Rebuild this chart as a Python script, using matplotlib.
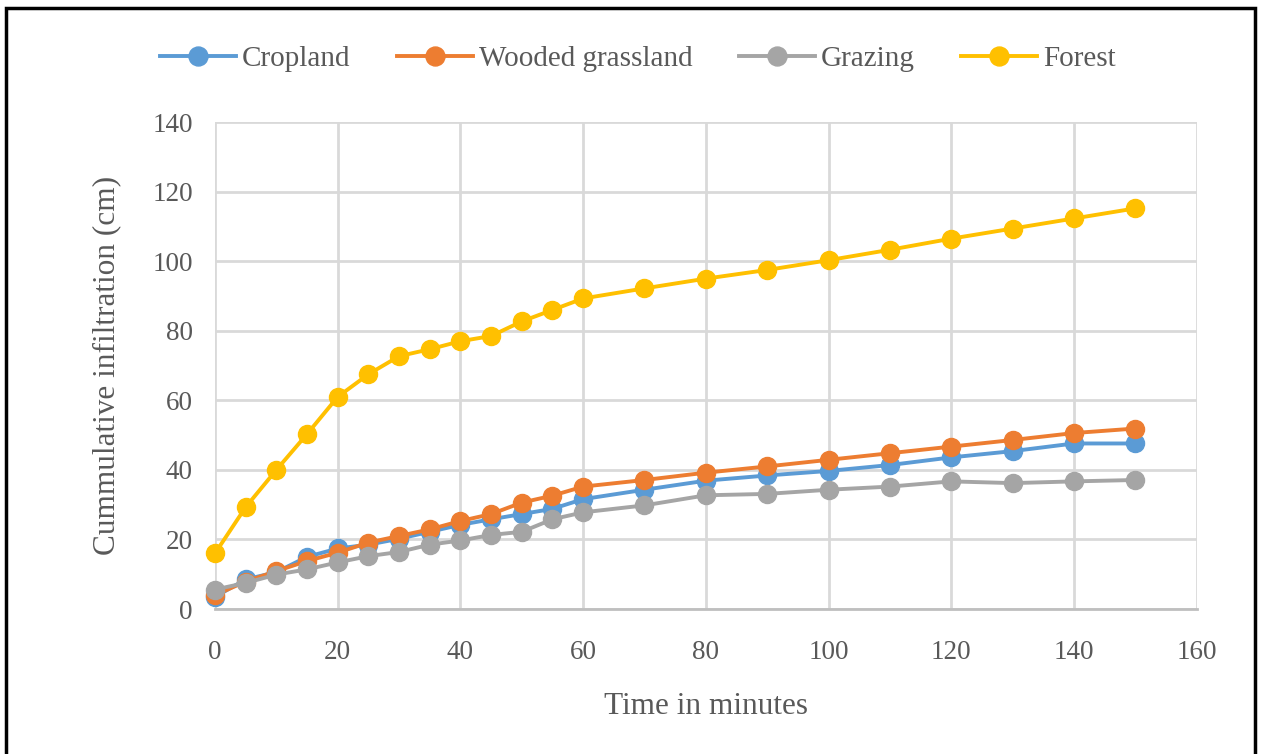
import matplotlib
matplotlib.use("Agg")
import matplotlib.pyplot as plt
from matplotlib.patches import Rectangle

# time in minutes
time = [0, 5, 10, 15, 20, 25, 30, 35, 40, 45, 50, 55, 60, 70, 80, 90, 100, 110, 120, 130, 140, 150]

cropland = [3.5, 8.5, 10.6, 15.0, 17.4, 18.5, 20.2, 22.2, 24.2, 25.8, 27.3, 28.8, 31.6,
            34.3, 36.9, 38.4, 39.7, 41.4, 43.6, 45.4, 47.6, 47.6]
wooded = [4.0, 7.9, 10.9, 13.8, 16.2, 19.1, 21.0, 22.9, 25.3, 27.3, 30.6, 32.6, 35.2,
          37.1, 39.2, 41.0, 42.9, 44.8, 46.7, 48.6, 50.6, 51.9]
grazing = [5.6, 7.5, 9.9, 11.4, 13.4, 15.2, 16.4, 18.5, 19.7, 21.3, 22.2, 25.8, 27.8,
           29.8, 32.7, 33.1, 34.3, 35.2, 36.7, 36.2, 36.7, 37.1]
forest = [16.0, 29.3, 40.0, 50.3, 61.0, 67.5, 72.7, 74.7, 77.0, 78.5, 82.7, 86.0, 89.3,
          92.2, 95.0, 97.5, 100.3, 103.3, 106.5, 109.4, 112.3, 115.2]

series = [
    ("Cropland", cropland, "#5b9bd5"),
    ("Wooded grassland", wooded, "#ed7d31"),
    ("Grazing", grazing, "#a5a5a5"),
    ("Forest", forest, "#ffc000"),
]

plt.rcParams['font.family'] = ['Liberation Serif', 'DejaVu Serif']
txt = "#595959"

fig = plt.figure(figsize=(12.61, 7.54), dpi=100)
ax = fig.add_axes([0.1705, 0.1923, 0.7785, 0.6457])

for name, vals, col in series:
    ax.plot(time, vals, color=col, lw=2.8, marker='o', markersize=13,
            label=name, clip_on=False, zorder=3)

ax.set_xlim(0, 160)
ax.set_ylim(0, 140)
ax.set_xticks(range(0, 161, 20))
ax.set_yticks(range(0, 141, 20))
ax.grid(True, color="#d9d9d9", lw=2)
ax.set_axisbelow(True)
for s in ax.spines.values():
    s.set_visible(False)
ax.spines['bottom'].set_visible(True)
ax.spines['bottom'].set_color("#bfbfbf")
ax.spines['bottom'].set_linewidth(2)
ax.tick_params(length=0, labelsize=19.5, colors=txt)
ax.tick_params(axis='x', pad=22)
ax.tick_params(axis='y', pad=16)

ax.set_xlabel("Time in minutes", fontsize=22.5, color=txt, labelpad=20)
ax.set_ylabel("Cummulative infiltration (cm)", fontsize=22.5, color=txt, labelpad=22)

ax.legend(loc='center', bbox_to_anchor=(0.506, 0.922), bbox_transform=fig.transFigure,
          ncol=4, frameon=False, fontsize=21, labelcolor=txt, handlelength=2.6,
          columnspacing=1.6, handletextpad=0.2, markerscale=1.05)

# outer frame around the figure
fig.patches.append(Rectangle((0.005, -0.05), 0.99, 1.04, transform=fig.transFigure,
                             fill=False, edgecolor="black", lw=2.5))

fig.savefig("out.png", dpi=100)
